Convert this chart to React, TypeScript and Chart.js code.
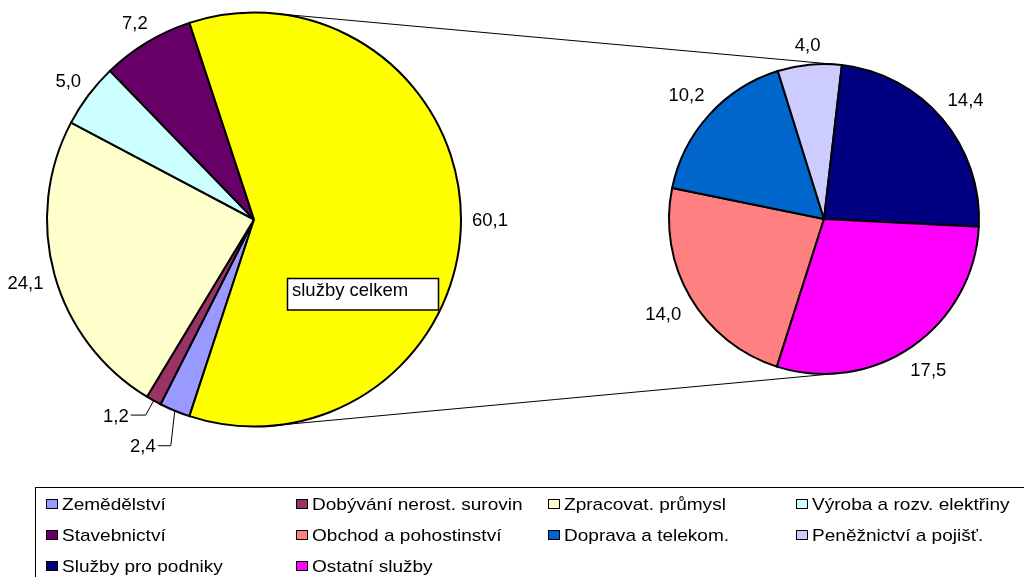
import React, { useEffect, useRef } from 'react';
import { Chart, registerables } from 'chart.js';

Chart.register(...registerables);

const FONT = '"Liberation Sans", Arial, Helvetica, sans-serif';

// Left pie (whole economy)
const leftLabels = [
  'Zemědělství',
  'Dobývání nerost. surovin',
  'Zpracovat. průmysl',
  'Výroba a rozv. elektřiny',
  'Stavebnictví',
  'služby celkem',
];
const leftValues = [2.4, 1.2, 24.1, 5.0, 7.2, 60.1];
const leftColors = ['#9999FF', '#993366', '#FFFFCC', '#CCFFFF', '#660066', '#FFFF00'];

// Right pie (breakdown of services)
const rightLabels = [
  'Obchod a pohostinství',
  'Doprava a telekom.',
  'Peněžnictví a pojišť.',
  'Služby pro podniky',
  'Ostatní služby',
];
const rightValues = [14.0, 10.2, 4.0, 14.4, 17.5];
const rightColors = ['#FF8080', '#0066CC', '#CCCCFF', '#000080', '#FF00FF'];

const legendLabels = [...leftLabels.slice(0, 5), ...rightLabels];
const legendColors = [...leftColors.slice(0, 5), ...rightColors];

const fmt = (v: number) => v.toFixed(1).replace('.', ',');

const LABEL_SIZE = 18.5;
const CAP = 0.716 * LABEL_SIZE;

function labelPlugin(id: string, gap: number, leaders: Record<number, number[]>, boxIndex: number | null) {
  return {
    id,
    afterDatasetsDraw(chart: any) {
      const ctx = chart.ctx as CanvasRenderingContext2D;
      const meta = chart.getDatasetMeta(0);
      const values = chart.data.datasets[0].data as number[];
      ctx.save();
      ctx.font = `${LABEL_SIZE}px ${FONT}`;
      ctx.fillStyle = '#000';
      ctx.textBaseline = 'alphabetic';
      meta.data.forEach((el: any, i: number) => {
        const { x, y, startAngle, endAngle, outerRadius } = el.getProps(
          ['x', 'y', 'startAngle', 'endAngle', 'outerRadius'],
          true
        );
        const mid = (startAngle + endAngle) / 2;
        const dx = Math.cos(mid);
        const dy = Math.sin(mid);
        const text = fmt(values[i]);
        const w = ctx.measureText(text).width;
        const lead = leaders[i];
        if (lead) {
          const ax = x + outerRadius * dx;
          const ay = y + outerRadius * dy;
          const ex = ax + lead[0];
          const ey = ay + lead[1];
          const hx = ex - lead[2];
          ctx.beginPath();
          ctx.moveTo(ax, ay);
          ctx.lineTo(ex, ey);
          ctx.lineTo(hx, ey);
          ctx.lineWidth = 1;
          ctx.strokeStyle = '#000';
          ctx.stroke();
          ctx.textAlign = 'right';
          ctx.fillText(text, hx - 2, ey + CAP / 2);
        } else {
          const dist = outerRadius + gap + (w / 2) * Math.abs(dx) + (CAP / 2) * Math.abs(dy);
          ctx.textAlign = 'center';
          ctx.fillText(text, x + dist * dx, y + dist * dy + CAP / 2);
        }
      });
      if (boxIndex !== null) {
        const el = meta.data[boxIndex];
        const { x, y } = el.getProps(['x', 'y'], true);
        const bx = x + 33.5;
        const by = y + 59;
        ctx.fillStyle = '#fff';
        ctx.fillRect(bx, by, 151, 31.5);
        ctx.lineWidth = 1.5;
        ctx.strokeStyle = '#000';
        ctx.strokeRect(bx, by, 151, 31.5);
        ctx.fillStyle = '#000';
        ctx.textAlign = 'left';
        ctx.fillText(chart.data.labels[boxIndex], bx + 4.5, by + 17.7);
      }
      ctx.restore();
    },
  };
}

function pieConfig(labels: string[], values: number[], colors: string[], rotation: number, radius: number, padding: any, plugins: any[]) {
  return {
    type: 'pie' as const,
    data: {
      labels,
      datasets: [
        {
          data: values,
          backgroundColor: colors,
          borderColor: '#000',
          borderWidth: 2,
          borderJoinStyle: 'miter',
          hoverOffset: 0,
          offset: 0,
        },
      ],
    },
    options: {
      responsive: false,
      animation: false as const,
      events: [] as any,
      rotation,
      radius,
      layout: { padding },
      plugins: {
        legend: { display: false },
        tooltip: { enabled: false },
      },
    },
    plugins,
  };
}

export default function App() {
  const leftRef = useRef<HTMLCanvasElement>(null);
  const rightRef = useRef<HTMLCanvasElement>(null);

  useEffect(() => {
    if (!leftRef.current || !rightRef.current) return;
    const left = new Chart(
      leftRef.current,
      pieConfig(
        leftLabels,
        leftValues,
        leftColors,
        198.18,
        207,
        { left: 47, right: 563, top: 12.5, bottom: 150.5 },
        [labelPlugin('leftLabels', 11, { 0: [-4, 35, 13], 1: [-8, 14.5, 15] }, 5)]
      ) as any
    );

    const connector = {
      id: 'connector',
      afterDraw(chart: any) {
        const a = left.getDatasetMeta(0).data[0] as any;
        const b = chart.getDatasetMeta(0).data[0] as any;
        if (!a || !b) return;
        const A = a.getProps(['x', 'y', 'outerRadius'], true);
        const B = b.getProps(['x', 'y', 'outerRadius'], true);
        const vx = B.x - A.x;
        const vy = B.y - A.y;
        const D = Math.hypot(vx, vy);
        const ux = vx / D;
        const uy = vy / D;
        const k = (A.outerRadius - B.outerRadius) / D;
        const s = Math.sqrt(1 - k * k);
        const ctx = chart.ctx as CanvasRenderingContext2D;
        ctx.save();
        ctx.strokeStyle = '#000';
        ctx.lineWidth = 1;
        [1, -1].forEach((sign) => {
          const nx = k * ux - sign * s * uy;
          const ny = k * uy + sign * s * ux;
          ctx.beginPath();
          ctx.moveTo(A.x + A.outerRadius * nx, A.y + A.outerRadius * ny);
          ctx.lineTo(B.x + B.outerRadius * nx, B.y + B.outerRadius * ny);
          ctx.stroke();
        });
        ctx.restore();
      },
    };

    const right = new Chart(
      rightRef.current,
      pieConfig(
        rightLabels,
        rightValues,
        rightColors,
        197.7,
        155,
        { left: 669, right: 45, top: 64, bottom: 203 },
        [labelPlugin('rightLabels', 12.5, {}, null), connector]
      ) as any
    );

    return () => {
      right.destroy();
      left.destroy();
    };
  }, []);

  const colX = [46, 296, 548, 796];
  const rowY = [504, 535, 566];

  return (
    <div
      style={{
        position: 'fixed',
        left: 0,
        top: 0,
        width: 1024,
        height: 577,
        overflow: 'hidden',
        background: '#fff',
      }}
    >
      <canvas ref={leftRef} width={1024} height={577} style={{ position: 'absolute', left: 0, top: 0 }} />
      <canvas ref={rightRef} width={1024} height={577} style={{ position: 'absolute', left: 0, top: 0 }} />
      <div
        style={{
          position: 'absolute',
          left: 35,
          top: 487,
          width: 1100,
          height: 200,
          border: '1px solid #000',
          boxSizing: 'border-box',
        }}
      />
      {legendLabels.map((label, i) => {
        const cx = colX[i % 4];
        const cy = rowY[Math.floor(i / 4)];
        return (
          <React.Fragment key={label}>
            <div
              style={{
                position: 'absolute',
                left: cx,
                top: cy - 5.5,
                width: 10,
                height: 8,
                border: '1.5px solid #000',
                background: legendColors[i],
              }}
            />
            <span
              style={{
                position: 'absolute',
                left: cx + 16,
                top: cy - 8.3,
                fontFamily: FONT,
                fontSize: 17,
                lineHeight: '17px',
                whiteSpace: 'nowrap',
                color: '#000',
                transform: 'scaleX(1.12)',
                transformOrigin: 'left center',
              }}
            >
              {label}
            </span>
          </React.Fragment>
        );
      })}
    </div>
  );
}
